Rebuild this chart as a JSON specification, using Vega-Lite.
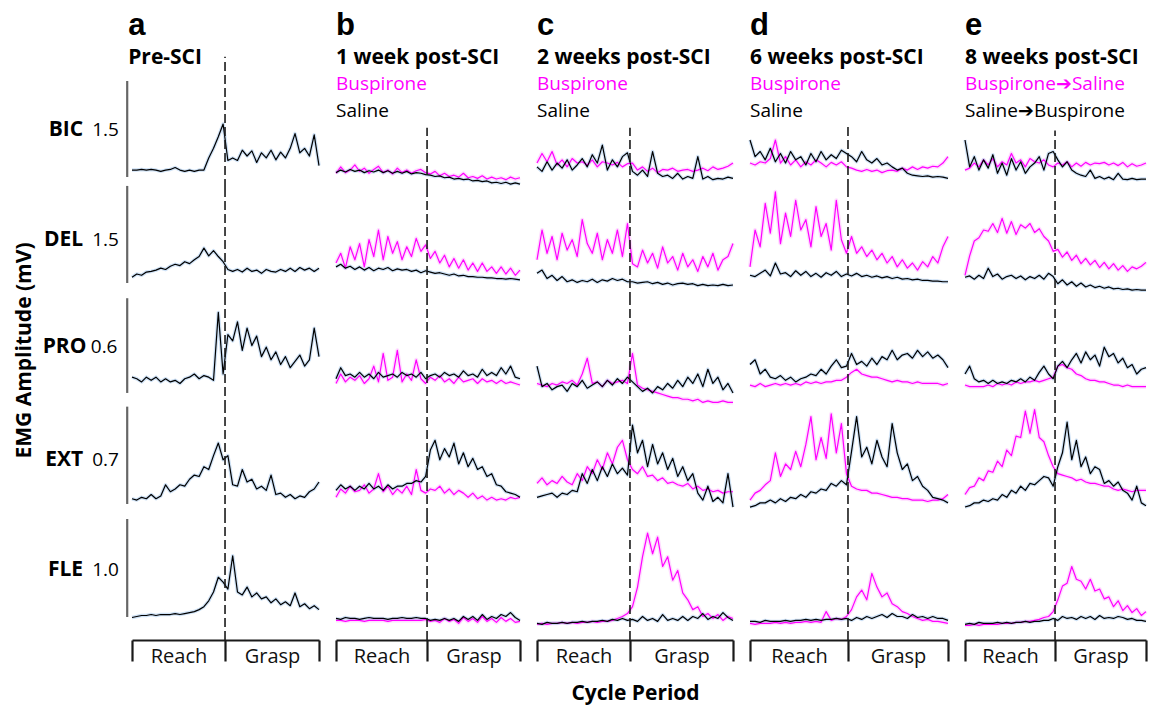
{"$schema":"https://vega.github.io/schema/vega-lite/v6.json","background":"white","padding":{"left":13,"top":10,"right":0,"bottom":12},
"config":{"view":{"stroke":null},"axis":{"grid":false},"line":{"strokeJoin":"round"}},
"datasets":{
"A":[{"x":0,"k1":0.28,"k2":0.29,"k3":0.17,"k4":0.11,"k5":0.23},{"x":1,"k1":0.28,"k2":0.34,"k3":0.16,"k4":0.10,"k5":0.24},{"x":2,"k1":0.29,"k2":0.32,"k3":0.14,"k4":0.12,"k5":0.25},{"x":3,"k1":0.28,"k2":0.37,"k3":0.17,"k4":0.11,"k5":0.25},{"x":4,"k1":0.29,"k2":0.38,"k3":0.15,"k4":0.14,"k5":0.26},{"x":5,"k1":0.28,"k2":0.40,"k3":0.17,"k4":0.11,"k5":0.25},{"x":6,"k1":0.26,"k2":0.43,"k3":0.14,"k4":0.13,"k5":0.26},{"x":7,"k1":0.28,"k2":0.41,"k3":0.16,"k4":0.21,"k5":0.26},{"x":8,"k1":0.29,"k2":0.46,"k3":0.14,"k4":0.16,"k5":0.26},{"x":9,"k1":0.32,"k2":0.49,"k3":0.15,"k4":0.18,"k5":0.27},{"x":10,"k1":0.28,"k2":0.47,"k3":0.13,"k4":0.21,"k5":0.26},{"x":11,"k1":0.26,"k2":0.53,"k3":0.16,"k4":0.20,"k5":0.27},{"x":12,"k1":0.28,"k2":0.50,"k3":0.17,"k4":0.25,"k5":0.28},{"x":13,"k1":0.26,"k2":0.56,"k3":0.19,"k4":0.28,"k5":0.29},{"x":14,"k1":0.28,"k2":0.61,"k3":0.16,"k4":0.27,"k5":0.31},{"x":15,"k1":0.28,"k2":0.74,"k3":0.18,"k4":0.34,"k5":0.34},{"x":16,"k1":0.47,"k2":0.62,"k3":0.17,"k4":0.32,"k5":0.40},{"x":17,"k1":0.62,"k2":0.70,"k3":0.15,"k4":0.42,"k5":0.49},{"x":18,"k1":0.80,"k2":0.61,"k3":0.58,"k4":0.51,"k5":0.64},{"x":19,"k1":1.0,"k2":0.53,"k3":0.19,"k4":0.39,"k5":0.59},{"x":20,"k1":0.43,"k2":0.41,"k3":0.44,"k4":0.42,"k5":0.52},{"x":21,"k1":0.47,"k2":0.38,"k3":0.40,"k4":0.21,"k5":0.86},{"x":22,"k1":0.43,"k2":0.41,"k3":0.52,"k4":0.20,"k5":0.49},{"x":23,"k1":0.59,"k2":0.37,"k3":0.34,"k4":0.32,"k5":0.46},{"x":24,"k1":0.50,"k2":0.43,"k3":0.48,"k4":0.23,"k5":0.54},{"x":25,"k1":0.58,"k2":0.38,"k3":0.37,"k4":0.25,"k5":0.44},{"x":26,"k1":0.40,"k2":0.40,"k3":0.43,"k4":0.18,"k5":0.48},{"x":27,"k1":0.55,"k2":0.35,"k3":0.30,"k4":0.20,"k5":0.42},{"x":28,"k1":0.47,"k2":0.41,"k3":0.36,"k4":0.17,"k5":0.44},{"x":29,"k1":0.59,"k2":0.38,"k3":0.28,"k4":0.28,"k5":0.38},{"x":30,"k1":0.44,"k2":0.37,"k3":0.33,"k4":0.14,"k5":0.42},{"x":31,"k1":0.56,"k2":0.41,"k3":0.25,"k4":0.15,"k5":0.36},{"x":32,"k1":0.47,"k2":0.38,"k3":0.30,"k4":0.12,"k5":0.39},{"x":33,"k1":0.62,"k2":0.43,"k3":0.23,"k4":0.14,"k5":0.35},{"x":34,"k1":0.85,"k2":0.38,"k3":0.27,"k4":0.11,"k5":0.48},{"x":35,"k1":0.55,"k2":0.44,"k3":0.31,"k4":0.13,"k5":0.34},{"x":36,"k1":0.62,"k2":0.40,"k3":0.24,"k4":0.12,"k5":0.37},{"x":37,"k1":0.50,"k2":0.43,"k3":0.28,"k4":0.16,"k5":0.32},{"x":38,"k1":0.83,"k2":0.38,"k3":0.48,"k4":0.18,"k5":0.35},{"x":39,"k1":0.35,"k2":0.43,"k3":0.30,"k4":0.23,"k5":0.31}],
"B":[{"x":0,"k1":0.24,"m1":0.23,"k2":0.45,"m2":0.51,"k3":0.16,"m3":0.13,"k4":0.17,"m4":0.12,"k5":0.22,"m5":0.20},{"x":1,"k1":0.28,"m1":0.33,"k2":0.49,"m2":0.66,"k3":0.23,"m3":0.19,"k4":0.21,"m4":0.18,"k5":0.21,"m5":0.20},{"x":2,"k1":0.25,"m1":0.24,"k2":0.43,"m2":0.43,"k3":0.18,"m3":0.14,"k4":0.18,"m4":0.15,"k5":0.23,"m5":0.19},{"x":3,"k1":0.29,"m1":0.28,"k2":0.46,"m2":0.76,"k3":0.19,"m3":0.17,"k4":0.20,"m4":0.20,"k5":0.22,"m5":0.20},{"x":4,"k1":0.26,"m1":0.36,"k2":0.41,"m2":0.56,"k3":0.17,"m3":0.15,"k4":0.17,"m4":0.16,"k5":0.22,"m5":0.20},{"x":5,"k1":0.28,"m1":0.26,"k2":0.45,"m2":0.81,"k3":0.20,"m3":0.18,"k4":0.20,"m4":0.17,"k5":0.21,"m5":0.20},{"x":6,"k1":0.24,"m1":0.31,"k2":0.40,"m2":0.45,"k3":0.17,"m3":0.13,"k4":0.18,"m4":0.21,"k5":0.22,"m5":0.19},{"x":7,"k1":0.27,"m1":0.23,"k2":0.44,"m2":0.87,"k3":0.19,"m3":0.16,"k4":0.22,"m4":0.15,"k5":0.23,"m5":0.20},{"x":8,"k1":0.25,"m1":0.29,"k2":0.39,"m2":0.61,"k3":0.16,"m3":0.24,"k4":0.18,"m4":0.18,"k5":0.22,"m5":0.20},{"x":9,"k1":0.28,"m1":0.34,"k2":0.43,"m2":1.02,"k3":0.20,"m3":0.14,"k4":0.20,"m4":0.29,"k5":0.22,"m5":0.20},{"x":10,"k1":0.24,"m1":0.24,"k2":0.41,"m2":0.56,"k3":0.17,"m3":0.32,"k4":0.17,"m4":0.16,"k5":0.22,"m5":0.20},{"x":11,"k1":0.27,"m1":0.28,"k2":0.44,"m2":0.92,"k3":0.18,"m3":0.15,"k4":0.21,"m4":0.20,"k5":0.21,"m5":0.19},{"x":12,"k1":0.23,"m1":0.22,"k2":0.39,"m2":0.66,"k3":0.19,"m3":0.17,"k4":0.18,"m4":0.14,"k5":0.22,"m5":0.20},{"x":13,"k1":0.26,"m1":0.31,"k2":0.42,"m2":0.84,"k3":0.17,"m3":0.34,"k4":0.20,"m4":0.18,"k5":0.22,"m5":0.20},{"x":14,"k1":0.23,"m1":0.24,"k2":0.40,"m2":0.56,"k3":0.20,"m3":0.14,"k4":0.20,"m4":0.15,"k5":0.23,"m5":0.20},{"x":15,"k1":0.26,"m1":0.28,"k2":0.41,"m2":0.76,"k3":0.18,"m3":0.19,"k4":0.22,"m4":0.20,"k5":0.22,"m5":0.20},{"x":16,"k1":0.22,"m1":0.23,"k2":0.38,"m2":0.61,"k3":0.19,"m3":0.15,"k4":0.22,"m4":0.14,"k5":0.22,"m5":0.20},{"x":17,"k1":0.24,"m1":0.27,"k2":0.40,"m2":0.89,"k3":0.17,"m3":0.28,"k4":0.24,"m4":0.32,"k5":0.23,"m5":0.20},{"x":18,"k1":0.23,"m1":0.29,"k2":0.36,"m2":0.69,"k3":0.20,"m3":0.16,"k4":0.23,"m4":0.17,"k5":0.22,"m5":0.20},{"x":19,"k1":0.21,"m1":0.24,"k2":0.39,"m2":0.79,"k3":0.16,"m3":0.13,"k4":0.27,"m4":0.15,"k5":0.22,"m5":0.21},{"x":20,"k1":0.20,"m1":0.22,"k2":0.37,"m2":0.58,"k3":0.18,"m3":0.17,"k4":0.46,"m4":0.18,"k5":0.20,"m5":0.19},{"x":21,"k1":0.18,"m1":0.26,"k2":0.35,"m2":0.69,"k3":0.19,"m3":0.15,"k4":0.53,"m4":0.17,"k5":0.21,"m5":0.20},{"x":22,"k1":0.19,"m1":0.19,"k2":0.36,"m2":0.51,"k3":0.17,"m3":0.18,"k4":0.39,"m4":0.20,"k5":0.20,"m5":0.18},{"x":23,"k1":0.16,"m1":0.23,"k2":0.34,"m2":0.63,"k3":0.20,"m3":0.14,"k4":0.47,"m4":0.15,"k5":0.22,"m5":0.22},{"x":24,"k1":0.17,"m1":0.18,"k2":0.32,"m2":0.45,"k3":0.18,"m3":0.16,"k4":0.41,"m4":0.18,"k5":0.20,"m5":0.19},{"x":25,"k1":0.14,"m1":0.20,"k2":0.34,"m2":0.58,"k3":0.19,"m3":0.13,"k4":0.51,"m4":0.14,"k5":0.22,"m5":0.21},{"x":26,"k1":0.15,"m1":0.17,"k2":0.31,"m2":0.43,"k3":0.17,"m3":0.17,"k4":0.36,"m4":0.17,"k5":0.19,"m5":0.17},{"x":27,"k1":0.13,"m1":0.23,"k2":0.32,"m2":0.56,"k3":0.21,"m3":0.14,"k4":0.44,"m4":0.15,"k5":0.24,"m5":0.23},{"x":28,"k1":0.14,"m1":0.16,"k2":0.30,"m2":0.40,"k3":0.18,"m3":0.15,"k4":0.34,"m4":0.12,"k5":0.21,"m5":0.19},{"x":29,"k1":0.11,"m1":0.18,"k2":0.30,"m2":0.51,"k3":0.19,"m3":0.16,"k4":0.40,"m4":0.15,"k5":0.24,"m5":0.22},{"x":30,"k1":0.12,"m1":0.15,"k2":0.29,"m2":0.38,"k3":0.17,"m3":0.13,"k4":0.32,"m4":0.11,"k5":0.20,"m5":0.18},{"x":31,"k1":0.10,"m1":0.19,"k2":0.29,"m2":0.51,"k3":0.22,"m3":0.16,"k4":0.34,"m4":0.13,"k5":0.26,"m5":0.24},{"x":32,"k1":0.11,"m1":0.14,"k2":0.28,"m2":0.38,"k3":0.18,"m3":0.14,"k4":0.27,"m4":0.10,"k5":0.21,"m5":0.19},{"x":33,"k1":0.08,"m1":0.17,"k2":0.28,"m2":0.45,"k3":0.20,"m3":0.15,"k4":0.29,"m4":0.12,"k5":0.24,"m5":0.22},{"x":34,"k1":0.09,"m1":0.14,"k2":0.27,"m2":0.35,"k3":0.18,"m3":0.13,"k4":0.21,"m4":0.10,"k5":0.22,"m5":0.18},{"x":35,"k1":0.07,"m1":0.16,"k2":0.27,"m2":0.45,"k3":0.23,"m3":0.15,"k4":0.20,"m4":0.11,"k5":0.26,"m5":0.23},{"x":36,"k1":0.09,"m1":0.13,"k2":0.26,"m2":0.34,"k3":0.19,"m3":0.13,"k4":0.16,"m4":0.10,"k5":0.24,"m5":0.19},{"x":37,"k1":0.06,"m1":0.17,"k2":0.27,"m2":0.43,"k3":0.24,"m3":0.14,"k4":0.15,"m4":0.12,"k5":0.28,"m5":0.22},{"x":38,"k1":0.08,"m1":0.14,"k2":0.26,"m2":0.32,"k3":0.17,"m3":0.13,"k4":0.14,"m4":0.11,"k5":0.23,"m5":0.18},{"x":39,"k1":0.06,"m1":0.16,"k2":0.25,"m2":0.40,"k3":0.16,"m3":0.12,"k4":0.12,"m4":0.12,"k5":0.20,"m5":0.19}],
"C":[{"x":0,"k1":0.33,"m1":0.39,"k2":0.35,"m2":0.56,"k3":0.24,"m3":0.13,"k4":0.12,"m4":0.22,"k5":0.17,"m5":0.16},{"x":1,"k1":0.26,"m1":0.54,"k2":0.40,"m2":1.02,"k3":0.11,"m3":0.12,"k4":0.13,"m4":0.26,"k5":0.16,"m5":0.17},{"x":2,"k1":0.41,"m1":0.41,"k2":0.27,"m2":0.66,"k3":0.13,"m3":0.11,"k4":0.14,"m4":0.21,"k5":0.18,"m5":0.16},{"x":3,"k1":0.28,"m1":0.57,"k2":0.32,"m2":0.92,"k3":0.09,"m3":0.13,"k4":0.15,"m4":0.24,"k5":0.17,"m5":0.17},{"x":4,"k1":0.39,"m1":0.36,"k2":0.24,"m2":0.56,"k3":0.11,"m3":0.12,"k4":0.12,"m4":0.22,"k5":0.17,"m5":0.17},{"x":5,"k1":0.31,"m1":0.44,"k2":0.30,"m2":0.97,"k3":0.12,"m3":0.14,"k4":0.15,"m4":0.27,"k5":0.18,"m5":0.18},{"x":6,"k1":0.44,"m1":0.33,"k2":0.22,"m2":0.71,"k3":0.08,"m3":0.13,"k4":0.14,"m4":0.23,"k5":0.17,"m5":0.17},{"x":7,"k1":0.28,"m1":0.46,"k2":0.25,"m2":0.87,"k3":0.13,"m3":0.15,"k4":0.17,"m4":0.21,"k5":0.18,"m5":0.18},{"x":8,"k1":0.36,"m1":0.39,"k2":0.21,"m2":0.61,"k3":0.11,"m3":0.12,"k4":0.16,"m4":0.29,"k5":0.18,"m5":0.17},{"x":9,"k1":0.46,"m1":0.41,"k2":0.24,"m2":1.18,"k3":0.15,"m3":0.19,"k4":0.29,"m4":0.24,"k5":0.19,"m5":0.18},{"x":10,"k1":0.33,"m1":0.36,"k2":0.22,"m2":0.81,"k3":0.10,"m3":0.29,"k4":0.22,"m4":0.34,"k5":0.18,"m5":0.18},{"x":11,"k1":0.52,"m1":0.44,"k2":0.26,"m2":0.66,"k3":0.12,"m3":0.13,"k4":0.32,"m4":0.29,"k5":0.19,"m5":0.19},{"x":12,"k1":0.39,"m1":0.33,"k2":0.21,"m2":0.97,"k3":0.14,"m3":0.14,"k4":0.24,"m4":0.39,"k5":0.19,"m5":0.18},{"x":13,"k1":0.67,"m1":0.41,"k2":0.25,"m2":0.56,"k3":0.11,"m3":0.11,"k4":0.34,"m4":0.32,"k5":0.20,"m5":0.19},{"x":14,"k1":0.28,"m1":0.39,"k2":0.23,"m2":0.87,"k3":0.15,"m3":0.15,"k4":0.27,"m4":0.44,"k5":0.19,"m5":0.19},{"x":15,"k1":0.44,"m1":0.36,"k2":0.27,"m2":0.66,"k3":0.12,"m3":0.13,"k4":0.36,"m4":0.36,"k5":0.21,"m5":0.20},{"x":16,"k1":0.33,"m1":0.40,"k2":0.24,"m2":1.02,"k3":0.16,"m3":0.14,"k4":0.29,"m4":0.48,"k5":0.20,"m5":0.22},{"x":17,"k1":0.49,"m1":0.33,"k2":0.26,"m2":0.61,"k3":0.13,"m3":0.15,"k4":0.33,"m4":0.53,"k5":0.22,"m5":0.24},{"x":18,"k1":0.55,"m1":0.38,"k2":0.22,"m2":1.12,"k3":0.17,"m3":0.13,"k4":0.28,"m4":0.39,"k5":0.20,"m5":0.27},{"x":19,"k1":0.26,"m1":0.39,"k2":0.22,"m2":0.50,"k3":0.14,"m3":0.32,"k4":0.64,"m4":0.32,"k5":0.21,"m5":0.34},{"x":20,"k1":0.20,"m1":0.28,"k2":0.20,"m2":0.45,"k3":0.11,"m3":0.12,"k4":0.44,"m4":0.29,"k5":0.19,"m5":0.54},{"x":21,"k1":0.28,"m1":0.33,"k2":0.21,"m2":0.71,"k3":0.08,"m3":0.10,"k4":0.53,"m4":0.34,"k5":0.24,"m5":0.85},{"x":22,"k1":0.18,"m1":0.26,"k2":0.22,"m2":0.51,"k3":0.10,"m3":0.09,"k4":0.34,"m4":0.27,"k5":0.20,"m5":1.09},{"x":23,"k1":0.57,"m1":0.31,"k2":0.19,"m2":0.66,"k3":0.07,"m3":0.08,"k4":0.50,"m4":0.28,"k5":0.22,"m5":0.88},{"x":24,"k1":0.23,"m1":0.24,"k2":0.21,"m2":0.43,"k3":0.11,"m3":0.07,"k4":0.36,"m4":0.24,"k5":0.19,"m5":1.05},{"x":25,"k1":0.18,"m1":0.29,"k2":0.18,"m2":0.76,"k3":0.09,"m3":0.06,"k4":0.44,"m4":0.26,"k5":0.26,"m5":0.75},{"x":26,"k1":0.20,"m1":0.28,"k2":0.20,"m2":0.51,"k3":0.13,"m3":0.05,"k4":0.32,"m4":0.22,"k5":0.20,"m5":0.85},{"x":27,"k1":0.15,"m1":0.31,"k2":0.17,"m2":0.61,"k3":0.10,"m3":0.04,"k4":0.40,"m4":0.23,"k5":0.22,"m5":0.61},{"x":28,"k1":0.23,"m1":0.26,"k2":0.19,"m2":0.40,"k3":0.15,"m3":0.04,"k4":0.27,"m4":0.21,"k5":0.20,"m5":0.71},{"x":29,"k1":0.14,"m1":0.28,"k2":0.20,"m2":0.66,"k3":0.11,"m3":0.03,"k4":0.34,"m4":0.20,"k5":0.24,"m5":0.48},{"x":30,"k1":0.18,"m1":0.29,"k2":0.18,"m2":0.45,"k3":0.17,"m3":0.03,"k4":0.24,"m4":0.22,"k5":0.20,"m5":0.41},{"x":31,"k1":0.15,"m1":0.26,"k2":0.19,"m2":0.56,"k3":0.13,"m3":0.02,"k4":0.29,"m4":0.18,"k5":0.24,"m5":0.31},{"x":32,"k1":0.49,"m1":0.28,"k2":0.16,"m2":0.38,"k3":0.19,"m3":0.03,"k4":0.15,"m4":0.20,"k5":0.22,"m5":0.34},{"x":33,"k1":0.14,"m1":0.31,"k2":0.18,"m2":0.61,"k3":0.11,"m3":0.01,"k4":0.10,"m4":0.17,"k5":0.27,"m5":0.24},{"x":34,"k1":0.18,"m1":0.27,"k2":0.16,"m2":0.45,"k3":0.22,"m3":0.02,"k4":0.20,"m4":0.18,"k5":0.21,"m5":0.27},{"x":35,"k1":0.13,"m1":0.33,"k2":0.17,"m2":0.66,"k3":0.13,"m3":0.01,"k4":0.09,"m4":0.16,"k5":0.24,"m5":0.22},{"x":36,"k1":0.15,"m1":0.29,"k2":0.16,"m2":0.40,"k3":0.17,"m3":0.01,"k4":0.12,"m4":0.17,"k5":0.22,"m5":0.26},{"x":37,"k1":0.14,"m1":0.31,"k2":0.18,"m2":0.56,"k3":0.09,"m3":0.02,"k4":0.08,"m4":0.15,"k5":0.28,"m5":0.20},{"x":38,"k1":0.17,"m1":0.34,"k2":0.16,"m2":0.61,"k3":0.13,"m3":0.01,"k4":0.29,"m4":0.16,"k5":0.23,"m5":0.24},{"x":39,"k1":0.15,"m1":0.39,"k2":0.17,"m2":0.81,"k3":0.07,"m3":0.01,"k4":0.05,"m4":0.16,"k5":0.20,"m5":0.22}],
"D":[{"x":0,"k1":0.75,"m1":0.39,"k2":0.32,"m2":0.45,"k3":0.25,"m3":0.12,"k4":0.05,"m4":0.10,"k5":0.19,"m5":0.17},{"x":1,"k1":0.49,"m1":0.36,"k2":0.30,"m2":1.02,"k3":0.28,"m3":0.11,"k4":0.06,"m4":0.15,"k5":0.19,"m5":0.16},{"x":2,"k1":0.57,"m1":0.41,"k2":0.35,"m2":0.76,"k3":0.19,"m3":0.13,"k4":0.08,"m4":0.17,"k5":0.18,"m5":0.17},{"x":3,"k1":0.44,"m1":0.39,"k2":0.40,"m2":1.43,"k3":0.22,"m3":0.11,"k4":0.08,"m4":0.21,"k5":0.20,"m5":0.17},{"x":4,"k1":0.62,"m1":0.46,"k2":0.31,"m2":0.97,"k3":0.17,"m3":0.12,"k4":0.10,"m4":0.24,"k5":0.19,"m5":0.17},{"x":5,"k1":0.41,"m1":0.75,"k2":0.51,"m2":1.61,"k3":0.16,"m3":0.13,"k4":0.08,"m4":0.44,"k5":0.19,"m5":0.18},{"x":6,"k1":0.54,"m1":0.39,"k2":0.34,"m2":0.81,"k3":0.18,"m3":0.12,"k4":0.11,"m4":0.27,"k5":0.19,"m5":0.17},{"x":7,"k1":0.39,"m1":0.49,"k2":0.36,"m2":1.28,"k3":0.15,"m3":0.13,"k4":0.09,"m4":0.36,"k5":0.20,"m5":0.18},{"x":8,"k1":0.57,"m1":0.36,"k2":0.30,"m2":0.92,"k3":0.17,"m3":0.12,"k4":0.12,"m4":0.32,"k5":0.19,"m5":0.17},{"x":9,"k1":0.44,"m1":0.44,"k2":0.39,"m2":1.48,"k3":0.14,"m3":0.13,"k4":0.11,"m4":0.45,"k5":0.20,"m5":0.18},{"x":10,"k1":0.49,"m1":0.33,"k2":0.32,"m2":1.02,"k3":0.16,"m3":0.12,"k4":0.14,"m4":0.34,"k5":0.20,"m5":0.18},{"x":11,"k1":0.36,"m1":0.41,"k2":0.38,"m2":1.18,"k3":0.17,"m3":0.14,"k4":0.12,"m4":0.50,"k5":0.21,"m5":0.19},{"x":12,"k1":0.54,"m1":0.36,"k2":0.30,"m2":0.76,"k3":0.19,"m3":0.13,"k4":0.16,"m4":0.70,"k5":0.20,"m5":0.18},{"x":13,"k1":0.41,"m1":0.44,"k2":0.35,"m2":1.38,"k3":0.18,"m3":0.14,"k4":0.15,"m4":0.39,"k5":0.21,"m5":0.19},{"x":14,"k1":0.57,"m1":0.39,"k2":0.29,"m2":0.92,"k3":0.22,"m3":0.13,"k4":0.18,"m4":0.55,"k5":0.20,"m5":0.18},{"x":15,"k1":0.44,"m1":0.33,"k2":0.36,"m2":1.12,"k3":0.19,"m3":0.14,"k4":0.17,"m4":0.40,"k5":0.21,"m5":0.29},{"x":16,"k1":0.52,"m1":0.40,"k2":0.32,"m2":0.71,"k3":0.24,"m3":0.14,"k4":0.22,"m4":0.72,"k5":0.21,"m5":0.20},{"x":17,"k1":0.46,"m1":0.36,"k2":0.38,"m2":1.48,"k3":0.28,"m3":0.15,"k4":0.20,"m4":0.44,"k5":0.22,"m5":0.22},{"x":18,"k1":0.59,"m1":0.41,"k2":0.30,"m2":0.87,"k3":0.23,"m3":0.15,"k4":0.24,"m4":0.65,"k5":0.21,"m5":0.21},{"x":19,"k1":0.54,"m1":0.33,"k2":0.34,"m2":0.66,"k3":0.24,"m3":0.17,"k4":0.21,"m4":0.29,"k5":0.22,"m5":0.24},{"x":20,"k1":0.49,"m1":0.31,"k2":0.31,"m2":0.92,"k3":0.32,"m3":0.20,"k4":0.45,"m4":0.20,"k5":0.20,"m5":0.31},{"x":21,"k1":0.41,"m1":0.28,"k2":0.35,"m2":0.66,"k3":0.25,"m3":0.22,"k4":0.70,"m4":0.18,"k5":0.23,"m5":0.44},{"x":22,"k1":0.57,"m1":0.26,"k2":0.30,"m2":0.76,"k3":0.27,"m3":0.19,"k4":0.41,"m4":0.17,"k5":0.21,"m5":0.51},{"x":23,"k1":0.44,"m1":0.29,"k2":0.32,"m2":0.61,"k3":0.24,"m3":0.18,"k4":0.48,"m4":0.17,"k5":0.24,"m5":0.41},{"x":24,"k1":0.39,"m1":0.26,"k2":0.29,"m2":0.71,"k3":0.29,"m3":0.17,"k4":0.36,"m4":0.15,"k5":0.22,"m5":0.68},{"x":25,"k1":0.46,"m1":0.28,"k2":0.31,"m2":0.56,"k3":0.25,"m3":0.17,"k4":0.53,"m4":0.15,"k5":0.24,"m5":0.54},{"x":26,"k1":0.36,"m1":0.24,"k2":0.28,"m2":0.66,"k3":0.30,"m3":0.16,"k4":0.41,"m4":0.14,"k5":0.26,"m5":0.44},{"x":27,"k1":0.39,"m1":0.27,"k2":0.30,"m2":0.51,"k3":0.28,"m3":0.15,"k4":0.34,"m4":0.13,"k5":0.23,"m5":0.48},{"x":28,"k1":0.33,"m1":0.28,"k2":0.27,"m2":0.61,"k3":0.34,"m3":0.14,"k4":0.65,"m4":0.12,"k5":0.27,"m5":0.37},{"x":29,"k1":0.28,"m1":0.26,"k2":0.29,"m2":0.45,"k3":0.28,"m3":0.15,"k4":0.44,"m4":0.12,"k5":0.24,"m5":0.34},{"x":30,"k1":0.31,"m1":0.31,"k2":0.26,"m2":0.56,"k3":0.31,"m3":0.14,"k4":0.32,"m4":0.11,"k5":0.24,"m5":0.29},{"x":31,"k1":0.23,"m1":0.28,"k2":0.27,"m2":0.43,"k3":0.32,"m3":0.14,"k4":0.36,"m4":0.11,"k5":0.22,"m5":0.27},{"x":32,"k1":0.20,"m1":0.33,"k2":0.25,"m2":0.51,"k3":0.29,"m3":0.13,"k4":0.24,"m4":0.10,"k5":0.26,"m5":0.24},{"x":33,"k1":0.19,"m1":0.29,"k2":0.26,"m2":0.40,"k3":0.34,"m3":0.14,"k4":0.27,"m4":0.10,"k5":0.23,"m5":0.22},{"x":34,"k1":0.18,"m1":0.33,"k2":0.24,"m2":0.53,"k3":0.30,"m3":0.13,"k4":0.20,"m4":0.10,"k5":0.24,"m5":0.20},{"x":35,"k1":0.19,"m1":0.31,"k2":0.24,"m2":0.45,"k3":0.33,"m3":0.13,"k4":0.17,"m4":0.09,"k5":0.22,"m5":0.21},{"x":36,"k1":0.17,"m1":0.34,"k2":0.23,"m2":0.61,"k3":0.29,"m3":0.13,"k4":0.12,"m4":0.10,"k5":0.24,"m5":0.19},{"x":37,"k1":0.18,"m1":0.33,"k2":0.23,"m2":0.51,"k3":0.31,"m3":0.13,"k4":0.11,"m4":0.10,"k5":0.22,"m5":0.19},{"x":38,"k1":0.17,"m1":0.39,"k2":0.22,"m2":0.76,"k3":0.28,"m3":0.12,"k4":0.10,"m4":0.11,"k5":0.22,"m5":0.18},{"x":39,"k1":0.15,"m1":0.49,"k2":0.22,"m2":0.92,"k3":0.23,"m3":0.13,"k4":0.08,"m4":0.14,"k5":0.20,"m5":0.17}],
"E":[{"x":0,"k1":0.75,"m1":0.28,"k2":0.29,"m2":0.32,"k3":0.19,"m3":0.12,"k4":0.05,"m4":0.14,"k5":0.16,"m5":0.15},{"x":1,"k1":0.33,"m1":0.31,"k2":0.31,"m2":0.62,"k3":0.24,"m3":0.11,"k4":0.06,"m4":0.19,"k5":0.17,"m5":0.15},{"x":2,"k1":0.49,"m1":0.39,"k2":0.26,"m2":0.85,"k3":0.16,"m3":0.11,"k4":0.08,"m4":0.20,"k5":0.16,"m5":0.16},{"x":3,"k1":0.28,"m1":0.33,"k2":0.32,"m2":0.90,"k3":0.14,"m3":0.11,"k4":0.08,"m4":0.26,"k5":0.18,"m5":0.15},{"x":4,"k1":0.44,"m1":0.44,"k2":0.27,"m2":1.02,"k3":0.15,"m3":0.11,"k4":0.10,"m4":0.24,"k5":0.17,"m5":0.16},{"x":5,"k1":0.31,"m1":0.36,"k2":0.43,"m2":1.0,"k3":0.13,"m3":0.12,"k4":0.09,"m4":0.31,"k5":0.17,"m5":0.16},{"x":6,"k1":0.52,"m1":0.46,"k2":0.30,"m2":1.12,"k3":0.15,"m3":0.11,"k4":0.11,"m4":0.30,"k5":0.17,"m5":0.16},{"x":7,"k1":0.23,"m1":0.33,"k2":0.34,"m2":0.98,"k3":0.13,"m3":0.13,"k4":0.10,"m4":0.38,"k5":0.18,"m5":0.16},{"x":8,"k1":0.39,"m1":0.41,"k2":0.26,"m2":1.20,"k3":0.14,"m3":0.12,"k4":0.14,"m4":0.34,"k5":0.17,"m5":0.17},{"x":9,"k1":0.20,"m1":0.36,"k2":0.30,"m2":0.97,"k3":0.13,"m3":0.13,"k4":0.12,"m4":0.46,"k5":0.18,"m5":0.17},{"x":10,"k1":0.46,"m1":0.54,"k2":0.32,"m2":1.15,"k3":0.15,"m3":0.12,"k4":0.17,"m4":0.42,"k5":0.17,"m5":0.17},{"x":11,"k1":0.28,"m1":0.39,"k2":0.27,"m2":0.95,"k3":0.14,"m3":0.14,"k4":0.15,"m4":0.56,"k5":0.18,"m5":0.18},{"x":12,"k1":0.41,"m1":0.44,"k2":0.31,"m2":1.10,"k3":0.16,"m3":0.13,"k4":0.20,"m4":0.55,"k5":0.18,"m5":0.18},{"x":13,"k1":0.23,"m1":0.33,"k2":0.25,"m2":1.05,"k3":0.14,"m3":0.14,"k4":0.17,"m4":0.74,"k5":0.19,"m5":0.19},{"x":14,"k1":0.33,"m1":0.46,"k2":0.30,"m2":1.12,"k3":0.17,"m3":0.14,"k4":0.22,"m4":0.58,"k5":0.18,"m5":0.19},{"x":15,"k1":0.39,"m1":0.41,"k2":0.27,"m2":0.98,"k3":0.15,"m3":0.15,"k4":0.21,"m4":0.75,"k5":0.19,"m5":0.20},{"x":16,"k1":0.49,"m1":0.39,"k2":0.32,"m2":1.04,"k3":0.20,"m3":0.14,"k4":0.24,"m4":0.55,"k5":0.19,"m5":0.21},{"x":17,"k1":0.28,"m1":0.44,"k2":0.26,"m2":0.92,"k3":0.24,"m3":0.15,"k4":0.27,"m4":0.52,"k5":0.20,"m5":0.23},{"x":18,"k1":0.54,"m1":0.36,"k2":0.35,"m2":0.85,"k3":0.19,"m3":0.16,"k4":0.26,"m4":0.42,"k5":0.20,"m5":0.24},{"x":19,"k1":0.57,"m1":0.33,"k2":0.30,"m2":0.69,"k3":0.16,"m3":0.17,"k4":0.20,"m4":0.34,"k5":0.22,"m5":0.29},{"x":20,"k1":0.44,"m1":0.39,"k2":0.19,"m2":0.72,"k3":0.24,"m3":0.24,"k4":0.34,"m4":0.29,"k5":0.20,"m5":0.41},{"x":21,"k1":0.33,"m1":0.36,"k2":0.25,"m2":0.60,"k3":0.27,"m3":0.25,"k4":0.44,"m4":0.28,"k5":0.24,"m5":0.55},{"x":22,"k1":0.41,"m1":0.41,"k2":0.17,"m2":0.68,"k3":0.23,"m3":0.23,"k4":0.66,"m4":0.27,"k5":0.22,"m5":0.58},{"x":23,"k1":0.28,"m1":0.33,"k2":0.22,"m2":0.55,"k3":0.28,"m3":0.22,"k4":0.39,"m4":0.26,"k5":0.23,"m5":0.75},{"x":24,"k1":0.23,"m1":0.39,"k2":0.15,"m2":0.63,"k3":0.32,"m3":0.19,"k4":0.53,"m4":0.24,"k5":0.21,"m5":0.62},{"x":25,"k1":0.20,"m1":0.34,"k2":0.20,"m2":0.50,"k3":0.26,"m3":0.18,"k4":0.34,"m4":0.25,"k5":0.24,"m5":0.60},{"x":26,"k1":0.18,"m1":0.40,"k2":0.14,"m2":0.58,"k3":0.33,"m3":0.16,"k4":0.41,"m4":0.23,"k5":0.22,"m5":0.52},{"x":27,"k1":0.28,"m1":0.36,"k2":0.17,"m2":0.48,"k3":0.28,"m3":0.15,"k4":0.29,"m4":0.22,"k5":0.24,"m5":0.62},{"x":28,"k1":0.15,"m1":0.39,"k2":0.13,"m2":0.55,"k3":0.31,"m3":0.15,"k4":0.34,"m4":0.22,"k5":0.21,"m5":0.50},{"x":29,"k1":0.18,"m1":0.38,"k2":0.15,"m2":0.44,"k3":0.24,"m3":0.14,"k4":0.32,"m4":0.21,"k5":0.25,"m5":0.52},{"x":30,"k1":0.14,"m1":0.40,"k2":0.12,"m2":0.52,"k3":0.36,"m3":0.14,"k4":0.22,"m4":0.20,"k5":0.22,"m5":0.42},{"x":31,"k1":0.17,"m1":0.36,"k2":0.14,"m2":0.42,"k3":0.30,"m3":0.13,"k4":0.24,"m4":0.20,"k5":0.23,"m5":0.44},{"x":32,"k1":0.13,"m1":0.39,"k2":0.11,"m2":0.50,"k3":0.32,"m3":0.12,"k4":0.20,"m4":0.18,"k5":0.22,"m5":0.34},{"x":33,"k1":0.23,"m1":0.35,"k2":0.12,"m2":0.40,"k3":0.26,"m3":0.12,"k4":0.23,"m4":0.17,"k5":0.24,"m5":0.40},{"x":34,"k1":0.14,"m1":0.40,"k2":0.10,"m2":0.47,"k3":0.29,"m3":0.11,"k4":0.17,"m4":0.18,"k5":0.23,"m5":0.30},{"x":35,"k1":0.13,"m1":0.33,"k2":0.11,"m2":0.38,"k3":0.23,"m3":0.12,"k4":0.15,"m4":0.17,"k5":0.21,"m5":0.35},{"x":36,"k1":0.15,"m1":0.38,"k2":0.09,"m2":0.45,"k3":0.25,"m3":0.11,"k4":0.10,"m4":0.16,"k5":0.22,"m5":0.28},{"x":37,"k1":0.13,"m1":0.34,"k2":0.10,"m2":0.42,"k3":0.19,"m3":0.11,"k4":0.20,"m4":0.17,"k5":0.20,"m5":0.32},{"x":38,"k1":0.14,"m1":0.36,"k2":0.09,"m2":0.46,"k3":0.22,"m3":0.11,"k4":0.08,"m4":0.17,"k5":0.20,"m5":0.25},{"x":39,"k1":0.14,"m1":0.39,"k2":0.09,"m2":0.52,"k3":0.23,"m3":0.11,"k4":0.06,"m4":0.17,"k5":0.19,"m5":0.29}]
},
"columns":5,"spacing":{"row":0,"column":17},"bounds":"flush","resolve":{"scale":{"x":"independent","y":"independent"}},
"concat":[
{"width":187,"height":116,"data":{"name":"A"},"encoding":{"x":{"field":"x","type":"quantitative","scale":{"domain":[0,39],"nice":false,"zero":false},"axis":null}},"layer":[
{"mark":{"type":"line","stroke":"#a6c8ec","strokeWidth":3.5,"opacity":0.55},"encoding":{"y":{"field":"k1","type":"quantitative","scale":{"domain":[0,1.8125],"nice":false,"zero":false},"axis":null}}},
{"mark":{"type":"line","stroke":"#000000","strokeWidth":1.2},"encoding":{"y":{"field":"k1","type":"quantitative","axis":null}}},
{"transform":[{"filter":"datum.x == 0"}],"mark":{"type":"rule","stroke":"#1a1a1a","strokeWidth":1.6,"strokeDash":[9,4]},"encoding":{"x":{"datum":19.4,"axis":null},"y":{"datum":0,"axis":null},"y2":{"datum":2.05}}},
{"transform":[{"filter":"datum.x == 0"}],"mark":{"type":"rule","stroke":"#666666","strokeWidth":2.2},"encoding":{"x":{"datum":-1,"axis":null},"y":{"datum":0.172,"axis":null},"y2":{"datum":1.672}}},
{"transform":[{"filter":"datum.x == 0"}],"mark":{"type":"text","text":"BIC","align":"right","baseline":"middle","font":"Open Sans","fontSize":21,"fontWeight":"bold","color":"#000"},"encoding":{"x":{"datum":-10.2,"axis":null},"y":{"datum":0.906,"axis":null}}},
{"transform":[{"filter":"datum.x == 0"}],"mark":{"type":"text","text":"1.5","align":"left","baseline":"middle","font":"Open Sans","fontSize":19,"color":"#000"},"encoding":{"x":{"datum":-8.3,"axis":null},"y":{"datum":0.906,"axis":null}}},
{"transform":[{"filter":"datum.x == 0"}],"mark":{"type":"text","text":"a","align":"left","baseline":"alphabetic","font":"Liberation Sans","fontSize":31,"fontWeight":"bold","color":"#000"},"encoding":{"x":{"datum":-0.8,"axis":null},"y":{"datum":2.39,"axis":null}}},
{"transform":[{"filter":"datum.x == 0"}],"mark":{"type":"text","text":"Pre-SCI","align":"left","baseline":"alphabetic","font":"Open Sans","fontSize":21,"fontWeight":"bold","color":"#000"},"encoding":{"x":{"datum":-0.8,"axis":null},"y":{"datum":1.94,"axis":null}}}
]},
{"width":184,"height":116,"data":{"name":"B"},"encoding":{"x":{"field":"x","type":"quantitative","scale":{"domain":[0,39],"nice":false,"zero":false},"axis":null}},"layer":[
{"mark":{"type":"line","stroke":"#ff9cff","strokeWidth":4,"opacity":0.35},"encoding":{"y":{"field":"m1","type":"quantitative","scale":{"domain":[0,1.8125],"nice":false,"zero":false},"axis":null}}},
{"mark":{"type":"line","stroke":"#a6c8ec","strokeWidth":3.5,"opacity":0.55},"encoding":{"y":{"field":"k1","type":"quantitative","axis":null}}},
{"mark":{"type":"line","stroke":"#ff00ff","strokeWidth":1.2},"encoding":{"y":{"field":"m1","type":"quantitative","axis":null}}},
{"mark":{"type":"line","stroke":"#000000","strokeWidth":1.2},"encoding":{"y":{"field":"k1","type":"quantitative","axis":null}}},
{"transform":[{"filter":"datum.x == 0"}],"mark":{"type":"rule","stroke":"#1a1a1a","strokeWidth":1.6,"strokeDash":[9,4]},"encoding":{"x":{"datum":19.3,"axis":null},"y":{"datum":0,"axis":null},"y2":{"datum":0.94}}},
{"transform":[{"filter":"datum.x == 0"}],"mark":{"type":"text","text":"b","align":"left","baseline":"alphabetic","font":"Liberation Sans","fontSize":31,"fontWeight":"bold","color":"#000"},"encoding":{"x":{"datum":0,"axis":null},"y":{"datum":2.39,"axis":null}}},
{"transform":[{"filter":"datum.x == 0"}],"mark":{"type":"text","text":"1 week post-SCI","align":"left","baseline":"alphabetic","font":"Open Sans","fontSize":21,"fontWeight":"bold","color":"#000"},"encoding":{"x":{"datum":0,"axis":null},"y":{"datum":1.94,"axis":null}}},
{"transform":[{"filter":"datum.x == 0"}],"mark":{"type":"text","text":"Buspirone","align":"left","baseline":"alphabetic","font":"Open Sans","fontSize":19,"color":"#ff00ff"},"encoding":{"x":{"datum":0,"axis":null},"y":{"datum":1.53,"axis":null}}},
{"transform":[{"filter":"datum.x == 0"}],"mark":{"type":"text","text":"Saline","align":"left","baseline":"alphabetic","font":"Open Sans","fontSize":19,"color":"#000"},"encoding":{"x":{"datum":0,"axis":null},"y":{"datum":1.11,"axis":null}}}
]},
{"width":196,"height":116,"data":{"name":"C"},"encoding":{"x":{"field":"x","type":"quantitative","scale":{"domain":[0,39],"nice":false,"zero":false},"axis":null}},"layer":[
{"mark":{"type":"line","stroke":"#ff9cff","strokeWidth":4,"opacity":0.35},"encoding":{"y":{"field":"m1","type":"quantitative","scale":{"domain":[0,1.8125],"nice":false,"zero":false},"axis":null}}},
{"mark":{"type":"line","stroke":"#a6c8ec","strokeWidth":3.5,"opacity":0.55},"encoding":{"y":{"field":"k1","type":"quantitative","axis":null}}},
{"mark":{"type":"line","stroke":"#ff00ff","strokeWidth":1.2},"encoding":{"y":{"field":"m1","type":"quantitative","axis":null}}},
{"mark":{"type":"line","stroke":"#000000","strokeWidth":1.2},"encoding":{"y":{"field":"k1","type":"quantitative","axis":null}}},
{"transform":[{"filter":"datum.x == 0"}],"mark":{"type":"rule","stroke":"#1a1a1a","strokeWidth":1.6,"strokeDash":[9,4]},"encoding":{"x":{"datum":18.5,"axis":null},"y":{"datum":0,"axis":null},"y2":{"datum":0.94}}},
{"transform":[{"filter":"datum.x == 0"}],"mark":{"type":"text","text":"c","align":"left","baseline":"alphabetic","font":"Liberation Sans","fontSize":31,"fontWeight":"bold","color":"#000"},"encoding":{"x":{"datum":0,"axis":null},"y":{"datum":2.39,"axis":null}}},
{"transform":[{"filter":"datum.x == 0"}],"mark":{"type":"text","text":"2 weeks post-SCI","align":"left","baseline":"alphabetic","font":"Open Sans","fontSize":21,"fontWeight":"bold","color":"#000"},"encoding":{"x":{"datum":0,"axis":null},"y":{"datum":1.94,"axis":null}}},
{"transform":[{"filter":"datum.x == 0"}],"mark":{"type":"text","text":"Buspirone","align":"left","baseline":"alphabetic","font":"Open Sans","fontSize":19,"color":"#ff00ff"},"encoding":{"x":{"datum":0,"axis":null},"y":{"datum":1.53,"axis":null}}},
{"transform":[{"filter":"datum.x == 0"}],"mark":{"type":"text","text":"Saline","align":"left","baseline":"alphabetic","font":"Open Sans","fontSize":19,"color":"#000"},"encoding":{"x":{"datum":0,"axis":null},"y":{"datum":1.11,"axis":null}}}
]},
{"width":198,"height":116,"data":{"name":"D"},"encoding":{"x":{"field":"x","type":"quantitative","scale":{"domain":[0,39],"nice":false,"zero":false},"axis":null}},"layer":[
{"mark":{"type":"line","stroke":"#ff9cff","strokeWidth":4,"opacity":0.35},"encoding":{"y":{"field":"m1","type":"quantitative","scale":{"domain":[0,1.8125],"nice":false,"zero":false},"axis":null}}},
{"mark":{"type":"line","stroke":"#a6c8ec","strokeWidth":3.5,"opacity":0.55},"encoding":{"y":{"field":"k1","type":"quantitative","axis":null}}},
{"mark":{"type":"line","stroke":"#ff00ff","strokeWidth":1.2},"encoding":{"y":{"field":"m1","type":"quantitative","axis":null}}},
{"mark":{"type":"line","stroke":"#000000","strokeWidth":1.2},"encoding":{"y":{"field":"k1","type":"quantitative","axis":null}}},
{"transform":[{"filter":"datum.x == 0"}],"mark":{"type":"rule","stroke":"#1a1a1a","strokeWidth":1.6,"strokeDash":[9,4]},"encoding":{"x":{"datum":19.3,"axis":null},"y":{"datum":0,"axis":null},"y2":{"datum":1.0}}},
{"transform":[{"filter":"datum.x == 0"}],"mark":{"type":"text","text":"d","align":"left","baseline":"alphabetic","font":"Liberation Sans","fontSize":31,"fontWeight":"bold","color":"#000"},"encoding":{"x":{"datum":0,"axis":null},"y":{"datum":2.39,"axis":null}}},
{"transform":[{"filter":"datum.x == 0"}],"mark":{"type":"text","text":"6 weeks post-SCI","align":"left","baseline":"alphabetic","font":"Open Sans","fontSize":21,"fontWeight":"bold","color":"#000"},"encoding":{"x":{"datum":0,"axis":null},"y":{"datum":1.94,"axis":null}}},
{"transform":[{"filter":"datum.x == 0"}],"mark":{"type":"text","text":"Buspirone","align":"left","baseline":"alphabetic","font":"Open Sans","fontSize":19,"color":"#ff00ff"},"encoding":{"x":{"datum":0,"axis":null},"y":{"datum":1.53,"axis":null}}},
{"transform":[{"filter":"datum.x == 0"}],"mark":{"type":"text","text":"Saline","align":"left","baseline":"alphabetic","font":"Open Sans","fontSize":19,"color":"#000"},"encoding":{"x":{"datum":0,"axis":null},"y":{"datum":1.11,"axis":null}}}
]},
{"width":181,"height":116,"data":{"name":"E"},"encoding":{"x":{"field":"x","type":"quantitative","scale":{"domain":[0,39],"nice":false,"zero":false},"axis":null}},"layer":[
{"mark":{"type":"line","stroke":"#ff9cff","strokeWidth":4,"opacity":0.35},"encoding":{"y":{"field":"m1","type":"quantitative","scale":{"domain":[0,1.8125],"nice":false,"zero":false},"axis":null}}},
{"mark":{"type":"line","stroke":"#a6c8ec","strokeWidth":3.5,"opacity":0.55},"encoding":{"y":{"field":"k1","type":"quantitative","axis":null}}},
{"mark":{"type":"line","stroke":"#ff00ff","strokeWidth":1.2},"encoding":{"y":{"field":"m1","type":"quantitative","axis":null}}},
{"mark":{"type":"line","stroke":"#000000","strokeWidth":1.2},"encoding":{"y":{"field":"k1","type":"quantitative","axis":null}}},
{"transform":[{"filter":"datum.x == 0"}],"mark":{"type":"rule","stroke":"#1a1a1a","strokeWidth":1.6,"strokeDash":[9,4]},"encoding":{"x":{"datum":19.4,"axis":null},"y":{"datum":0,"axis":null},"y2":{"datum":0.9}}},
{"transform":[{"filter":"datum.x == 0"}],"mark":{"type":"text","text":"e","align":"left","baseline":"alphabetic","font":"Liberation Sans","fontSize":31,"fontWeight":"bold","color":"#000"},"encoding":{"x":{"datum":0,"axis":null},"y":{"datum":2.39,"axis":null}}},
{"transform":[{"filter":"datum.x == 0"}],"mark":{"type":"text","text":"8 weeks post-SCI","align":"left","baseline":"alphabetic","font":"Open Sans","fontSize":21,"fontWeight":"bold","color":"#000"},"encoding":{"x":{"datum":0,"axis":null},"y":{"datum":1.94,"axis":null}}},
{"transform":[{"filter":"datum.x == 0"}],"mark":{"type":"text","text":"Buspirone➔Saline","align":"left","baseline":"alphabetic","font":"Open Sans","fontSize":19,"color":"#ff00ff"},"encoding":{"x":{"datum":0,"axis":null},"y":{"datum":1.53,"axis":null}}},
{"transform":[{"filter":"datum.x == 0"}],"mark":{"type":"text","text":"Saline➔Buspirone","align":"left","baseline":"alphabetic","font":"Open Sans","fontSize":19,"color":"#000"},"encoding":{"x":{"datum":0,"axis":null},"y":{"datum":1.11,"axis":null}}}
]},
{"width":187,"height":108,"data":{"name":"A"},"encoding":{"x":{"field":"x","type":"quantitative","scale":{"domain":[0,39],"nice":false,"zero":false},"axis":null}},"layer":[
{"mark":{"type":"line","stroke":"#a6c8ec","strokeWidth":3.5,"opacity":0.55},"encoding":{"y":{"field":"k2","type":"quantitative","scale":{"domain":[0,1.669],"nice":false,"zero":false},"axis":null}}},
{"mark":{"type":"line","stroke":"#000000","strokeWidth":1.2},"encoding":{"y":{"field":"k2","type":"quantitative","axis":null}}},
{"transform":[{"filter":"datum.x == 0"}],"mark":{"type":"rule","stroke":"#1a1a1a","strokeWidth":1.6,"strokeDash":[9,4]},"encoding":{"x":{"datum":19.4,"axis":null}}},
{"transform":[{"filter":"datum.x == 0"}],"mark":{"type":"rule","stroke":"#666666","strokeWidth":2.2},"encoding":{"x":{"datum":-1,"axis":null},"y":{"datum":0.201,"axis":null},"y2":{"datum":1.701}}},
{"transform":[{"filter":"datum.x == 0"}],"mark":{"type":"text","text":"DEL","align":"right","baseline":"middle","font":"Open Sans","fontSize":21,"fontWeight":"bold","color":"#000"},"encoding":{"x":{"datum":-10.2,"axis":null},"y":{"datum":0.866,"axis":null}}},
{"transform":[{"filter":"datum.x == 0"}],"mark":{"type":"text","text":"1.5","align":"left","baseline":"middle","font":"Open Sans","fontSize":19,"color":"#000"},"encoding":{"x":{"datum":-8.3,"axis":null},"y":{"datum":0.866,"axis":null}}}
]},
{"width":184,"height":108,"data":{"name":"B"},"encoding":{"x":{"field":"x","type":"quantitative","scale":{"domain":[0,39],"nice":false,"zero":false},"axis":null}},"layer":[
{"mark":{"type":"line","stroke":"#ff9cff","strokeWidth":4,"opacity":0.35},"encoding":{"y":{"field":"m2","type":"quantitative","scale":{"domain":[0,1.669],"nice":false,"zero":false},"axis":null}}},
{"mark":{"type":"line","stroke":"#a6c8ec","strokeWidth":3.5,"opacity":0.55},"encoding":{"y":{"field":"k2","type":"quantitative","axis":null}}},
{"mark":{"type":"line","stroke":"#ff00ff","strokeWidth":1.2},"encoding":{"y":{"field":"m2","type":"quantitative","axis":null}}},
{"mark":{"type":"line","stroke":"#000000","strokeWidth":1.2},"encoding":{"y":{"field":"k2","type":"quantitative","axis":null}}},
{"transform":[{"filter":"datum.x == 0"}],"mark":{"type":"rule","stroke":"#1a1a1a","strokeWidth":1.6,"strokeDash":[9,4]},"encoding":{"x":{"datum":19.3,"axis":null}}}
]},
{"width":196,"height":108,"data":{"name":"C"},"encoding":{"x":{"field":"x","type":"quantitative","scale":{"domain":[0,39],"nice":false,"zero":false},"axis":null}},"layer":[
{"mark":{"type":"line","stroke":"#ff9cff","strokeWidth":4,"opacity":0.35},"encoding":{"y":{"field":"m2","type":"quantitative","scale":{"domain":[0,1.669],"nice":false,"zero":false},"axis":null}}},
{"mark":{"type":"line","stroke":"#a6c8ec","strokeWidth":3.5,"opacity":0.55},"encoding":{"y":{"field":"k2","type":"quantitative","axis":null}}},
{"mark":{"type":"line","stroke":"#ff00ff","strokeWidth":1.2},"encoding":{"y":{"field":"m2","type":"quantitative","axis":null}}},
{"mark":{"type":"line","stroke":"#000000","strokeWidth":1.2},"encoding":{"y":{"field":"k2","type":"quantitative","axis":null}}},
{"transform":[{"filter":"datum.x == 0"}],"mark":{"type":"rule","stroke":"#1a1a1a","strokeWidth":1.6,"strokeDash":[9,4]},"encoding":{"x":{"datum":18.5,"axis":null}}}
]},
{"width":198,"height":108,"data":{"name":"D"},"encoding":{"x":{"field":"x","type":"quantitative","scale":{"domain":[0,39],"nice":false,"zero":false},"axis":null}},"layer":[
{"mark":{"type":"line","stroke":"#ff9cff","strokeWidth":4,"opacity":0.35},"encoding":{"y":{"field":"m2","type":"quantitative","scale":{"domain":[0,1.669],"nice":false,"zero":false},"axis":null}}},
{"mark":{"type":"line","stroke":"#a6c8ec","strokeWidth":3.5,"opacity":0.55},"encoding":{"y":{"field":"k2","type":"quantitative","axis":null}}},
{"mark":{"type":"line","stroke":"#ff00ff","strokeWidth":1.2},"encoding":{"y":{"field":"m2","type":"quantitative","axis":null}}},
{"mark":{"type":"line","stroke":"#000000","strokeWidth":1.2},"encoding":{"y":{"field":"k2","type":"quantitative","axis":null}}},
{"transform":[{"filter":"datum.x == 0"}],"mark":{"type":"rule","stroke":"#1a1a1a","strokeWidth":1.6,"strokeDash":[9,4]},"encoding":{"x":{"datum":19.3,"axis":null}}}
]},
{"width":181,"height":108,"data":{"name":"E"},"encoding":{"x":{"field":"x","type":"quantitative","scale":{"domain":[0,39],"nice":false,"zero":false},"axis":null}},"layer":[
{"mark":{"type":"line","stroke":"#ff9cff","strokeWidth":4,"opacity":0.35},"encoding":{"y":{"field":"m2","type":"quantitative","scale":{"domain":[0,1.669],"nice":false,"zero":false},"axis":null}}},
{"mark":{"type":"line","stroke":"#a6c8ec","strokeWidth":3.5,"opacity":0.55},"encoding":{"y":{"field":"k2","type":"quantitative","axis":null}}},
{"mark":{"type":"line","stroke":"#ff00ff","strokeWidth":1.2},"encoding":{"y":{"field":"m2","type":"quantitative","axis":null}}},
{"mark":{"type":"line","stroke":"#000000","strokeWidth":1.2},"encoding":{"y":{"field":"k2","type":"quantitative","axis":null}}},
{"transform":[{"filter":"datum.x == 0"}],"mark":{"type":"rule","stroke":"#1a1a1a","strokeWidth":1.6,"strokeDash":[9,4]},"encoding":{"x":{"datum":19.4,"axis":null}}}
]},
{"width":187,"height":108,"data":{"name":"A"},"encoding":{"x":{"field":"x","type":"quantitative","scale":{"domain":[0,39],"nice":false,"zero":false},"axis":null}},"layer":[
{"mark":{"type":"line","stroke":"#a6c8ec","strokeWidth":3.5,"opacity":0.55},"encoding":{"y":{"field":"k3","type":"quantitative","scale":{"domain":[0,0.684],"nice":false,"zero":false}}}},
{"mark":{"type":"line","stroke":"#000000","strokeWidth":1.2},"encoding":{"y":{"field":"k3","type":"quantitative","axis":{"title":"EMG Amplitude (mV)","labels":false,"ticks":false,"domain":false,"grid":false,"titleFont":"Open Sans","titleFontSize":21,"titleFontWeight":"bold","titleColor":"#000","titlePadding":98}}}},
{"transform":[{"filter":"datum.x == 0"}],"mark":{"type":"rule","stroke":"#1a1a1a","strokeWidth":1.6,"strokeDash":[9,4]},"encoding":{"x":{"datum":19.4,"axis":null}}},
{"transform":[{"filter":"datum.x == 0"}],"mark":{"type":"rule","stroke":"#666666","strokeWidth":2.2},"encoding":{"x":{"datum":-1,"axis":null},"y":{"datum":0.070},"y2":{"datum":0.670}}},
{"transform":[{"filter":"datum.x == 0"}],"mark":{"type":"text","text":"PRO","align":"right","baseline":"middle","font":"Open Sans","fontSize":21,"fontWeight":"bold","color":"#000"},"encoding":{"x":{"datum":-9.5,"axis":null},"y":{"datum":0.361}}},
{"transform":[{"filter":"datum.x == 0"}],"mark":{"type":"text","text":"0.6","align":"left","baseline":"middle","font":"Open Sans","fontSize":19,"color":"#000"},"encoding":{"x":{"datum":-8.6,"axis":null},"y":{"datum":0.361}}}
]},
{"width":184,"height":108,"data":{"name":"B"},"encoding":{"x":{"field":"x","type":"quantitative","scale":{"domain":[0,39],"nice":false,"zero":false},"axis":null}},"layer":[
{"mark":{"type":"line","stroke":"#ff9cff","strokeWidth":4,"opacity":0.35},"encoding":{"y":{"field":"m3","type":"quantitative","scale":{"domain":[0,0.684],"nice":false,"zero":false},"axis":null}}},
{"mark":{"type":"line","stroke":"#a6c8ec","strokeWidth":3.5,"opacity":0.55},"encoding":{"y":{"field":"k3","type":"quantitative","axis":null}}},
{"mark":{"type":"line","stroke":"#ff00ff","strokeWidth":1.2},"encoding":{"y":{"field":"m3","type":"quantitative","axis":null}}},
{"mark":{"type":"line","stroke":"#000000","strokeWidth":1.2},"encoding":{"y":{"field":"k3","type":"quantitative","axis":null}}},
{"transform":[{"filter":"datum.x == 0"}],"mark":{"type":"rule","stroke":"#1a1a1a","strokeWidth":1.6,"strokeDash":[9,4]},"encoding":{"x":{"datum":19.3,"axis":null}}}
]},
{"width":196,"height":108,"data":{"name":"C"},"encoding":{"x":{"field":"x","type":"quantitative","scale":{"domain":[0,39],"nice":false,"zero":false},"axis":null}},"layer":[
{"mark":{"type":"line","stroke":"#ff9cff","strokeWidth":4,"opacity":0.35},"encoding":{"y":{"field":"m3","type":"quantitative","scale":{"domain":[0,0.684],"nice":false,"zero":false},"axis":null}}},
{"mark":{"type":"line","stroke":"#a6c8ec","strokeWidth":3.5,"opacity":0.55},"encoding":{"y":{"field":"k3","type":"quantitative","axis":null}}},
{"mark":{"type":"line","stroke":"#ff00ff","strokeWidth":1.2},"encoding":{"y":{"field":"m3","type":"quantitative","axis":null}}},
{"mark":{"type":"line","stroke":"#000000","strokeWidth":1.2},"encoding":{"y":{"field":"k3","type":"quantitative","axis":null}}},
{"transform":[{"filter":"datum.x == 0"}],"mark":{"type":"rule","stroke":"#1a1a1a","strokeWidth":1.6,"strokeDash":[9,4]},"encoding":{"x":{"datum":18.5,"axis":null}}}
]},
{"width":198,"height":108,"data":{"name":"D"},"encoding":{"x":{"field":"x","type":"quantitative","scale":{"domain":[0,39],"nice":false,"zero":false},"axis":null}},"layer":[
{"mark":{"type":"line","stroke":"#ff9cff","strokeWidth":4,"opacity":0.35},"encoding":{"y":{"field":"m3","type":"quantitative","scale":{"domain":[0,0.684],"nice":false,"zero":false},"axis":null}}},
{"mark":{"type":"line","stroke":"#a6c8ec","strokeWidth":3.5,"opacity":0.55},"encoding":{"y":{"field":"k3","type":"quantitative","axis":null}}},
{"mark":{"type":"line","stroke":"#ff00ff","strokeWidth":1.2},"encoding":{"y":{"field":"m3","type":"quantitative","axis":null}}},
{"mark":{"type":"line","stroke":"#000000","strokeWidth":1.2},"encoding":{"y":{"field":"k3","type":"quantitative","axis":null}}},
{"transform":[{"filter":"datum.x == 0"}],"mark":{"type":"rule","stroke":"#1a1a1a","strokeWidth":1.6,"strokeDash":[9,4]},"encoding":{"x":{"datum":19.3,"axis":null}}}
]},
{"width":181,"height":108,"data":{"name":"E"},"encoding":{"x":{"field":"x","type":"quantitative","scale":{"domain":[0,39],"nice":false,"zero":false},"axis":null}},"layer":[
{"mark":{"type":"line","stroke":"#ff9cff","strokeWidth":4,"opacity":0.35},"encoding":{"y":{"field":"m3","type":"quantitative","scale":{"domain":[0,0.684],"nice":false,"zero":false},"axis":null}}},
{"mark":{"type":"line","stroke":"#a6c8ec","strokeWidth":3.5,"opacity":0.55},"encoding":{"y":{"field":"k3","type":"quantitative","axis":null}}},
{"mark":{"type":"line","stroke":"#ff00ff","strokeWidth":1.2},"encoding":{"y":{"field":"m3","type":"quantitative","axis":null}}},
{"mark":{"type":"line","stroke":"#000000","strokeWidth":1.2},"encoding":{"y":{"field":"k3","type":"quantitative","axis":null}}},
{"transform":[{"filter":"datum.x == 0"}],"mark":{"type":"rule","stroke":"#1a1a1a","strokeWidth":1.6,"strokeDash":[9,4]},"encoding":{"x":{"datum":19.4,"axis":null}}}
]},
{"width":187,"height":110,"data":{"name":"A"},"encoding":{"x":{"field":"x","type":"quantitative","scale":{"domain":[0,39],"nice":false,"zero":false},"axis":null}},"layer":[
{"mark":{"type":"line","stroke":"#a6c8ec","strokeWidth":3.5,"opacity":0.55},"encoding":{"y":{"field":"k4","type":"quantitative","scale":{"domain":[0,0.791],"nice":false,"zero":false},"axis":null}}},
{"mark":{"type":"line","stroke":"#000000","strokeWidth":1.2},"encoding":{"y":{"field":"k4","type":"quantitative","axis":null}}},
{"transform":[{"filter":"datum.x == 0"}],"mark":{"type":"rule","stroke":"#1a1a1a","strokeWidth":1.6,"strokeDash":[9,4]},"encoding":{"x":{"datum":19.4,"axis":null}}},
{"transform":[{"filter":"datum.x == 0"}],"mark":{"type":"rule","stroke":"#666666","strokeWidth":2.2},"encoding":{"x":{"datum":-1,"axis":null},"y":{"datum":0.072,"axis":null},"y2":{"datum":0.772}}},
{"transform":[{"filter":"datum.x == 0"}],"mark":{"type":"text","text":"EXT","align":"right","baseline":"middle","font":"Open Sans","fontSize":21,"fontWeight":"bold","color":"#000"},"encoding":{"x":{"datum":-10.2,"axis":null},"y":{"datum":0.388,"axis":null}}},
{"transform":[{"filter":"datum.x == 0"}],"mark":{"type":"text","text":"0.7","align":"left","baseline":"middle","font":"Open Sans","fontSize":19,"color":"#000"},"encoding":{"x":{"datum":-8.3,"axis":null},"y":{"datum":0.388,"axis":null}}}
]},
{"width":184,"height":110,"data":{"name":"B"},"encoding":{"x":{"field":"x","type":"quantitative","scale":{"domain":[0,39],"nice":false,"zero":false},"axis":null}},"layer":[
{"mark":{"type":"line","stroke":"#ff9cff","strokeWidth":4,"opacity":0.35},"encoding":{"y":{"field":"m4","type":"quantitative","scale":{"domain":[0,0.791],"nice":false,"zero":false},"axis":null}}},
{"mark":{"type":"line","stroke":"#a6c8ec","strokeWidth":3.5,"opacity":0.55},"encoding":{"y":{"field":"k4","type":"quantitative","axis":null}}},
{"mark":{"type":"line","stroke":"#ff00ff","strokeWidth":1.2},"encoding":{"y":{"field":"m4","type":"quantitative","axis":null}}},
{"mark":{"type":"line","stroke":"#000000","strokeWidth":1.2},"encoding":{"y":{"field":"k4","type":"quantitative","axis":null}}},
{"transform":[{"filter":"datum.x == 0"}],"mark":{"type":"rule","stroke":"#1a1a1a","strokeWidth":1.6,"strokeDash":[9,4]},"encoding":{"x":{"datum":19.3,"axis":null}}}
]},
{"width":196,"height":110,"data":{"name":"C"},"encoding":{"x":{"field":"x","type":"quantitative","scale":{"domain":[0,39],"nice":false,"zero":false},"axis":null}},"layer":[
{"mark":{"type":"line","stroke":"#ff9cff","strokeWidth":4,"opacity":0.35},"encoding":{"y":{"field":"m4","type":"quantitative","scale":{"domain":[0,0.791],"nice":false,"zero":false},"axis":null}}},
{"mark":{"type":"line","stroke":"#a6c8ec","strokeWidth":3.5,"opacity":0.55},"encoding":{"y":{"field":"k4","type":"quantitative","axis":null}}},
{"mark":{"type":"line","stroke":"#ff00ff","strokeWidth":1.2},"encoding":{"y":{"field":"m4","type":"quantitative","axis":null}}},
{"mark":{"type":"line","stroke":"#000000","strokeWidth":1.2},"encoding":{"y":{"field":"k4","type":"quantitative","axis":null}}},
{"transform":[{"filter":"datum.x == 0"}],"mark":{"type":"rule","stroke":"#1a1a1a","strokeWidth":1.6,"strokeDash":[9,4]},"encoding":{"x":{"datum":18.5,"axis":null}}}
]},
{"width":198,"height":110,"data":{"name":"D"},"encoding":{"x":{"field":"x","type":"quantitative","scale":{"domain":[0,39],"nice":false,"zero":false},"axis":null}},"layer":[
{"mark":{"type":"line","stroke":"#ff9cff","strokeWidth":4,"opacity":0.35},"encoding":{"y":{"field":"m4","type":"quantitative","scale":{"domain":[0,0.791],"nice":false,"zero":false},"axis":null}}},
{"mark":{"type":"line","stroke":"#a6c8ec","strokeWidth":3.5,"opacity":0.55},"encoding":{"y":{"field":"k4","type":"quantitative","axis":null}}},
{"mark":{"type":"line","stroke":"#ff00ff","strokeWidth":1.2},"encoding":{"y":{"field":"m4","type":"quantitative","axis":null}}},
{"mark":{"type":"line","stroke":"#000000","strokeWidth":1.2},"encoding":{"y":{"field":"k4","type":"quantitative","axis":null}}},
{"transform":[{"filter":"datum.x == 0"}],"mark":{"type":"rule","stroke":"#1a1a1a","strokeWidth":1.6,"strokeDash":[9,4]},"encoding":{"x":{"datum":19.3,"axis":null}}}
]},
{"width":181,"height":110,"data":{"name":"E"},"encoding":{"x":{"field":"x","type":"quantitative","scale":{"domain":[0,39],"nice":false,"zero":false},"axis":null}},"layer":[
{"mark":{"type":"line","stroke":"#ff9cff","strokeWidth":4,"opacity":0.35},"encoding":{"y":{"field":"m4","type":"quantitative","scale":{"domain":[0,0.791],"nice":false,"zero":false},"axis":null}}},
{"mark":{"type":"line","stroke":"#a6c8ec","strokeWidth":3.5,"opacity":0.55},"encoding":{"y":{"field":"k4","type":"quantitative","axis":null}}},
{"mark":{"type":"line","stroke":"#ff00ff","strokeWidth":1.2},"encoding":{"y":{"field":"m4","type":"quantitative","axis":null}}},
{"mark":{"type":"line","stroke":"#000000","strokeWidth":1.2},"encoding":{"y":{"field":"k4","type":"quantitative","axis":null}}},
{"transform":[{"filter":"datum.x == 0"}],"mark":{"type":"rule","stroke":"#1a1a1a","strokeWidth":1.6,"strokeDash":[9,4]},"encoding":{"x":{"datum":19.4,"axis":null}}}
]},
{"width":187,"height":126,"data":{"name":"A"},"encoding":{"x":{"field":"x","type":"quantitative","scale":{"domain":[0,39],"nice":false,"zero":false},"axis":{"values":[0,9.7,19.4,29.2,39],"title":null,"grid":false,"domain":true,"domainColor":"#1a1a1a","domainWidth":2.2,"ticks":true,"tickSize":21,"tickWidth":2.2,"tickColor":"#1a1a1a","tickOpacity":{"condition":{"test":"datum.value < 1 || datum.value > 38 || (datum.value > 17 && datum.value < 21)","value":1},"value":0},"labelExpr":"datum.value > 5 && datum.value < 15 ? 'Reach' : (datum.value > 24 && datum.value < 34 ? 'Grasp' : '')","labelFont":"Open Sans","labelFontSize":20,"labelColor":"#111","labelPadding":-15,"labelBaseline":"top","labelFlush":false,"labelOverlap":false,"labelBound":false}}},"layer":[
{"mark":{"type":"line","stroke":"#a6c8ec","strokeWidth":3.5,"opacity":0.55},"encoding":{"y":{"field":"k5","type":"quantitative","scale":{"domain":[0,1.286],"nice":false,"zero":false},"axis":null}}},
{"mark":{"type":"line","stroke":"#000000","strokeWidth":1.2},"encoding":{"y":{"field":"k5","type":"quantitative","axis":null}}},
{"transform":[{"filter":"datum.x == 0"}],"mark":{"type":"rule","stroke":"#1a1a1a","strokeWidth":1.6,"strokeDash":[9,4]},"encoding":{"x":{"datum":19.4}}},
{"transform":[{"filter":"datum.x == 0"}],"mark":{"type":"rule","stroke":"#666666","strokeWidth":2.2},"encoding":{"x":{"datum":-1},"y":{"datum":0.235,"axis":null},"y2":{"datum":1.235}}},
{"transform":[{"filter":"datum.x == 0"}],"mark":{"type":"text","text":"FLE","align":"right","baseline":"middle","font":"Open Sans","fontSize":21,"fontWeight":"bold","color":"#000"},"encoding":{"x":{"datum":-10.2},"y":{"datum":0.714,"axis":null}}},
{"transform":[{"filter":"datum.x == 0"}],"mark":{"type":"text","text":"1.0","align":"left","baseline":"middle","font":"Open Sans","fontSize":19,"color":"#000"},"encoding":{"x":{"datum":-8.3},"y":{"datum":0.714,"axis":null}}}
]},
{"width":184,"height":126,"data":{"name":"B"},"encoding":{"x":{"field":"x","type":"quantitative","scale":{"domain":[0,39],"nice":false,"zero":false},"axis":{"values":[0,9.65,19.3,29.15,39],"title":null,"grid":false,"domain":true,"domainColor":"#1a1a1a","domainWidth":2.2,"ticks":true,"tickSize":21,"tickWidth":2.2,"tickColor":"#1a1a1a","tickOpacity":{"condition":{"test":"datum.value < 1 || datum.value > 38 || (datum.value > 17 && datum.value < 21)","value":1},"value":0},"labelExpr":"datum.value > 5 && datum.value < 15 ? 'Reach' : (datum.value > 24 && datum.value < 34 ? 'Grasp' : '')","labelFont":"Open Sans","labelFontSize":20,"labelColor":"#111","labelPadding":-15,"labelBaseline":"top","labelFlush":false,"labelOverlap":false,"labelBound":false}}},"layer":[
{"mark":{"type":"line","stroke":"#ff9cff","strokeWidth":4,"opacity":0.35},"encoding":{"y":{"field":"m5","type":"quantitative","scale":{"domain":[0,1.286],"nice":false,"zero":false},"axis":null}}},
{"mark":{"type":"line","stroke":"#a6c8ec","strokeWidth":3.5,"opacity":0.55},"encoding":{"y":{"field":"k5","type":"quantitative","axis":null}}},
{"mark":{"type":"line","stroke":"#ff00ff","strokeWidth":1.2},"encoding":{"y":{"field":"m5","type":"quantitative","axis":null}}},
{"mark":{"type":"line","stroke":"#000000","strokeWidth":1.2},"encoding":{"y":{"field":"k5","type":"quantitative","axis":null}}},
{"transform":[{"filter":"datum.x == 0"}],"mark":{"type":"rule","stroke":"#1a1a1a","strokeWidth":1.6,"strokeDash":[9,4]},"encoding":{"x":{"datum":19.3}}}
]},
{"width":196,"height":126,"data":{"name":"C"},"encoding":{"x":{"field":"x","type":"quantitative","scale":{"domain":[0,39],"nice":false,"zero":false},"axis":{"values":[0,9.25,18.5,28.75,39],"title":"Cycle Period","titleFont":"Open Sans","titleFontSize":21,"titleFontWeight":"bold","titleColor":"#000","titlePadding":16,"grid":false,"domain":true,"domainColor":"#1a1a1a","domainWidth":2.2,"ticks":true,"tickSize":21,"tickWidth":2.2,"tickColor":"#1a1a1a","tickOpacity":{"condition":{"test":"datum.value < 1 || datum.value > 38 || (datum.value > 17 && datum.value < 21)","value":1},"value":0},"labelExpr":"datum.value > 5 && datum.value < 15 ? 'Reach' : (datum.value > 24 && datum.value < 34 ? 'Grasp' : '')","labelFont":"Open Sans","labelFontSize":20,"labelColor":"#111","labelPadding":-15,"labelBaseline":"top","labelFlush":false,"labelOverlap":false,"labelBound":false}}},"layer":[
{"mark":{"type":"line","stroke":"#ff9cff","strokeWidth":4,"opacity":0.35},"encoding":{"y":{"field":"m5","type":"quantitative","scale":{"domain":[0,1.286],"nice":false,"zero":false},"axis":null}}},
{"mark":{"type":"line","stroke":"#a6c8ec","strokeWidth":3.5,"opacity":0.55},"encoding":{"y":{"field":"k5","type":"quantitative","axis":null}}},
{"mark":{"type":"line","stroke":"#ff00ff","strokeWidth":1.2},"encoding":{"y":{"field":"m5","type":"quantitative","axis":null}}},
{"mark":{"type":"line","stroke":"#000000","strokeWidth":1.2},"encoding":{"y":{"field":"k5","type":"quantitative","axis":null}}},
{"transform":[{"filter":"datum.x == 0"}],"mark":{"type":"rule","stroke":"#1a1a1a","strokeWidth":1.6,"strokeDash":[9,4]},"encoding":{"x":{"datum":18.5}}}
]},
{"width":198,"height":126,"data":{"name":"D"},"encoding":{"x":{"field":"x","type":"quantitative","scale":{"domain":[0,39],"nice":false,"zero":false},"axis":{"values":[0,9.65,19.3,29.15,39],"title":null,"grid":false,"domain":true,"domainColor":"#1a1a1a","domainWidth":2.2,"ticks":true,"tickSize":21,"tickWidth":2.2,"tickColor":"#1a1a1a","tickOpacity":{"condition":{"test":"datum.value < 1 || datum.value > 38 || (datum.value > 17 && datum.value < 21)","value":1},"value":0},"labelExpr":"datum.value > 5 && datum.value < 15 ? 'Reach' : (datum.value > 24 && datum.value < 34 ? 'Grasp' : '')","labelFont":"Open Sans","labelFontSize":20,"labelColor":"#111","labelPadding":-15,"labelBaseline":"top","labelFlush":false,"labelOverlap":false,"labelBound":false}}},"layer":[
{"mark":{"type":"line","stroke":"#ff9cff","strokeWidth":4,"opacity":0.35},"encoding":{"y":{"field":"m5","type":"quantitative","scale":{"domain":[0,1.286],"nice":false,"zero":false},"axis":null}}},
{"mark":{"type":"line","stroke":"#a6c8ec","strokeWidth":3.5,"opacity":0.55},"encoding":{"y":{"field":"k5","type":"quantitative","axis":null}}},
{"mark":{"type":"line","stroke":"#ff00ff","strokeWidth":1.2},"encoding":{"y":{"field":"m5","type":"quantitative","axis":null}}},
{"mark":{"type":"line","stroke":"#000000","strokeWidth":1.2},"encoding":{"y":{"field":"k5","type":"quantitative","axis":null}}},
{"transform":[{"filter":"datum.x == 0"}],"mark":{"type":"rule","stroke":"#1a1a1a","strokeWidth":1.6,"strokeDash":[9,4]},"encoding":{"x":{"datum":19.3}}}
]},
{"width":181,"height":126,"data":{"name":"E"},"encoding":{"x":{"field":"x","type":"quantitative","scale":{"domain":[0,39],"nice":false,"zero":false},"axis":{"values":[0,9.7,19.4,29.2,39],"title":null,"grid":false,"domain":true,"domainColor":"#1a1a1a","domainWidth":2.2,"ticks":true,"tickSize":21,"tickWidth":2.2,"tickColor":"#1a1a1a","tickOpacity":{"condition":{"test":"datum.value < 1 || datum.value > 38 || (datum.value > 17 && datum.value < 21)","value":1},"value":0},"labelExpr":"datum.value > 5 && datum.value < 15 ? 'Reach' : (datum.value > 24 && datum.value < 34 ? 'Grasp' : '')","labelFont":"Open Sans","labelFontSize":20,"labelColor":"#111","labelPadding":-15,"labelBaseline":"top","labelFlush":false,"labelOverlap":false,"labelBound":false}}},"layer":[
{"mark":{"type":"line","stroke":"#ff9cff","strokeWidth":4,"opacity":0.35},"encoding":{"y":{"field":"m5","type":"quantitative","scale":{"domain":[0,1.286],"nice":false,"zero":false},"axis":null}}},
{"mark":{"type":"line","stroke":"#a6c8ec","strokeWidth":3.5,"opacity":0.55},"encoding":{"y":{"field":"k5","type":"quantitative","axis":null}}},
{"mark":{"type":"line","stroke":"#ff00ff","strokeWidth":1.2},"encoding":{"y":{"field":"m5","type":"quantitative","axis":null}}},
{"mark":{"type":"line","stroke":"#000000","strokeWidth":1.2},"encoding":{"y":{"field":"k5","type":"quantitative","axis":null}}},
{"transform":[{"filter":"datum.x == 0"}],"mark":{"type":"rule","stroke":"#1a1a1a","strokeWidth":1.6,"strokeDash":[9,4]},"encoding":{"x":{"datum":19.4}}}
]}
]}
